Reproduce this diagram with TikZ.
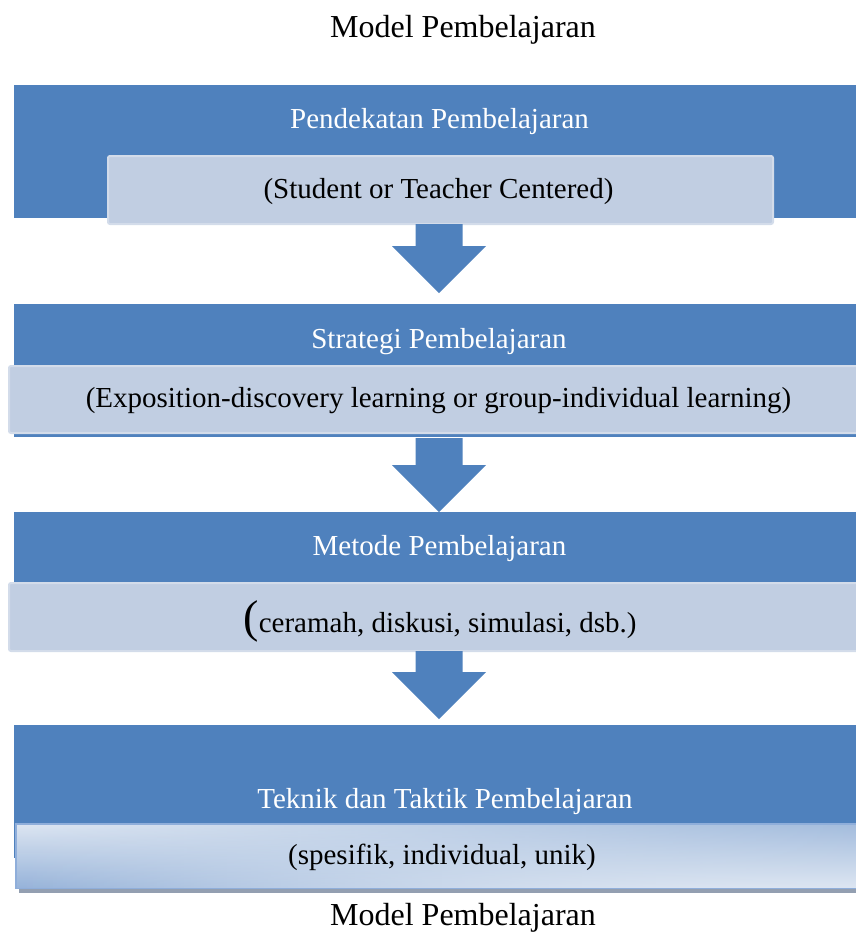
\documentclass[tikz,border=0pt]{standalone}
\usepackage{fontspec}
\setmainfont{Liberation Serif}
\usetikzlibrary{calc,fadings}
\definecolor{boxblue}{HTML}{4F81BD}
\definecolor{innerfill}{HTML}{C1CEE2}
\definecolor{innerline}{HTML}{D3DCEA}
\definecolor{gradlight}{HTML}{DDE6F2}
\definecolor{graddark}{HTML}{95B2D9}
\definecolor{gradmid}{HTML}{A3BCDD}
\definecolor{gradline}{HTML}{8FAEDA}
\definecolor{shadowgray}{HTML}{939FB1}
\tikzfading[name=fadeleftside, left color=transparent!0, right color=transparent!100]
\tikzfading[name=faderightside, left color=transparent!100, right color=transparent!0]
\newcommand\dnarrow[2]{%
  \fill[boxblue] ($(#1)+(-23.5,0)$) -- ($(#1)+(23.5,0)$) -- ($(#2)+(23.5,-47)$) -- ($(#2)+(47,-47)$) -- (#2) -- ($(#2)+(-47,-47)$) -- ($(#2)+(-23.5,-47)$) -- cycle;}
\tikzset{
  bluebox/.style={draw=white, line width=0.8pt, fill=boxblue, rectangle, anchor=north west, inner sep=0pt},
  innerbox/.style={draw=innerline, line width=2pt, fill=innerfill, rectangle, rounded corners=2pt, anchor=north west, inner sep=0pt},
  whitetxt/.style={text=white, font=\fontsize{29}{32}\selectfont, inner sep=0pt},
  blacktxt/.style={text=black, font=\fontsize{29}{32}\selectfont, inner sep=0pt},
  titletxt/.style={text=black, font=\fontsize{32}{36}\selectfont, inner sep=0pt}
}
\begin{document}
\begin{tikzpicture}[x=1pt,y=-1pt]
\useasboundingbox (0,0) rectangle (856,932);
\clip (0,0) rectangle (856,932);

\node[titletxt] (title) at (463,30) {Model Pembelajaran};

% level 1
\node[bluebox, minimum width=850pt, minimum height=134pt] (b1) at (13,84) {};
\node[whitetxt] (t1) at (439.5,122) {Pendekatan Pembelajaran};
\node[innerbox, minimum width=665pt, minimum height=68pt] (i1) at (107,155) {};
\node[blacktxt] (s1) at (438.5,192) {(Student or Teacher Centered)};

% level 2
\node[bluebox, minimum width=850pt, minimum height=134pt] (b2) at (13,303) {};
\node[whitetxt] (t2) at (439,342) {Strategi Pembelajaran};
\node[innerbox, minimum width=860pt, minimum height=67pt] (i2) at (8,365) {};
\node[blacktxt] (s2) at (438.5,401) {(Exposition-discovery learning or group-individual learning)};

% level 3
\node[bluebox, minimum width=850pt, minimum height=134pt] (b3) at (13,511) {};
\node[whitetxt] (t3) at (439.5,549) {Metode Pembelajaran};
\node[innerbox, minimum width=860pt, minimum height=68pt] (i3) at (8,582) {};
\node[blacktxt, anchor=base] (s3) at (440,632) {{\fontsize{46}{46}\selectfont (}ceramah, diskusi, simulasi, dsb.)};

% level 4
\node[bluebox, minimum width=850pt, minimum height=134pt] (b4) at (13,724) {};
\node[whitetxt] (t4) at (445,802) {Teknik dan Taktik Pembelajaran};
\fill[shadowgray] (19,886) rectangle (860,893);
\node[rectangle, anchor=north west, inner sep=0pt, minimum width=850pt, minimum height=64pt, fill=gradlight] (i4) at (16,824) {};
\shade[top color=gradlight, bottom color=graddark, path fading=fadeleftside] (i4.north west) rectangle (i4.south east);
\shade[top color=gradmid, bottom color=gradlight, path fading=faderightside] (i4.north west) rectangle (i4.south east);
\draw[gradline, line width=1.5pt] (i4.north west) rectangle (i4.south east);
\node[blacktxt] (s4) at (442,857) {(spesifik, individual, unik)};

\node[titletxt] (title2) at (463,918) {Model Pembelajaran};

% arrows
\coordinate (a1s) at (439,224);
\coordinate (a1t) at (439,293);
\coordinate (a2s) at (439,438);
\coordinate (a2t) at (439,512);
\coordinate (a3s) at (439,651);
\coordinate (a3t) at (439,719);
\dnarrow{a1s}{a1t}
\dnarrow{a2s}{a2t}
\dnarrow{a3s}{a3t}
\end{tikzpicture}
\end{document}
